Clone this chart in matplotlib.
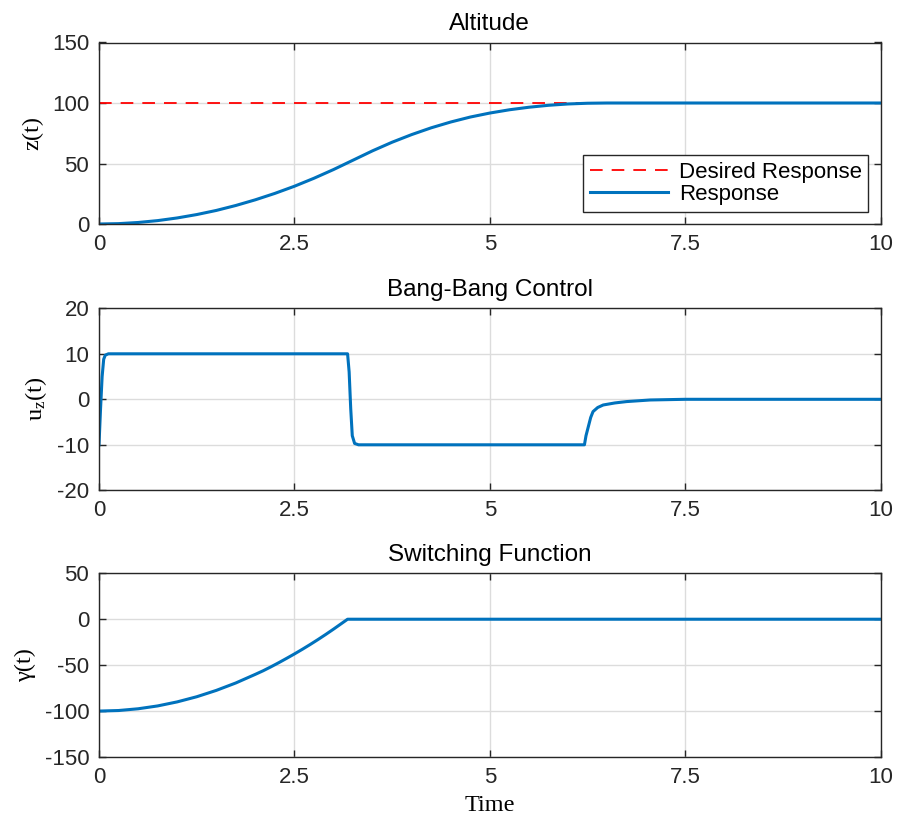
import matplotlib
matplotlib.use('Agg')
import matplotlib.pyplot as plt

plt.rcParams['font.family'] = ['Liberation Sans', 'DejaVu Sans']
plt.rcParams['mathtext.fontset'] = 'custom'
plt.rcParams['mathtext.rm'] = 'Liberation Serif'
plt.rcParams['mathtext.it'] = 'Liberation Serif:italic'
plt.rcParams['axes.unicode_minus'] = False

# altitude response
t_z = [0, 0.25, 0.5, 0.75, 1, 1.25, 1.5, 1.75, 2, 2.25, 2.5, 2.75, 3, 3.2,
       3.5, 3.75, 4, 4.25, 4.5, 4.75, 5, 5.25, 5.5, 5.75, 6, 6.25, 6.5, 10]
z = [0, 0.3, 1.25, 2.8, 5, 7.8, 11.2, 15.3, 20, 25.3, 31.2, 37.8, 45, 51.2,
     60.5, 67.6, 73.9, 79.5, 84.3, 88.4, 91.7, 94.4, 96.5, 98.1, 99.2, 99.8, 100, 100]
t_des = [0, 10]
z_des = [100, 100]

# bang-bang control
t_u = [0, 0.02, 0.04, 0.06, 0.08, 0.12, 3.18, 3.2, 3.22, 3.24, 3.27, 3.32,
       6.21, 6.23, 6.26, 6.29, 6.32, 6.38, 6.45, 6.6, 6.75, 7.05, 7.5, 10]
u = [-10, -2, 5, 8.8, 9.7, 10, 10, 6, -2, -8, -9.7, -10,
     -10, -8, -6, -4, -2.7, -1.8, -1.25, -0.8, -0.5, -0.15, 0, 0]

# switching function
t_g = [0, 0.25, 0.5, 0.75, 1, 1.25, 1.5, 1.75, 2, 2.1, 2.2, 2.3, 2.4, 2.5,
       2.6, 2.7, 2.8, 2.9, 3.0, 3.1, 3.18, 10]
gam = [-100, -99.4, -97.5, -94.4, -90, -84.4, -77.5, -69.4, -60, -56.1, -51.8,
       -47.3, -42.6, -37.8, -32.8, -27.6, -22.2, -16.6, -10.8, -4.8, 0, 0]

xticks = [0, 2.5, 5, 7.5, 10]
xlabels = ['0', '2.5', '5', '7.5', '10']

blue = '#0072BD'
W, H = 898, 827
fig = plt.figure(figsize=(W / 100, H / 100), dpi=100)

boxes = [(42.5, 224), (308.3, 490.3), (573.3, 757)]
axes = []
for top, bot in boxes:
    ax = fig.add_axes([99 / W, 1 - bot / H, (880.7 - 99) / W, (bot - top) / H])
    axes.append(ax)

def style(ax, yticks, ylabel, title):
    ax.set_xlim(0, 10)
    ax.set_ylim(yticks[0], yticks[-1])
    ax.set_xticks(xticks)
    ax.set_xticklabels(xlabels)
    ax.set_yticks(yticks)
    ax.tick_params(direction='in', top=True, right=True, labelsize=16,
                   length=5, width=1, color='#262626', pad=7, labelcolor='#262626')
    ax.grid(True, color='#dcdcdc', linewidth=1)
    ax.set_axisbelow(True)
    for s in ax.spines.values():
        s.set_color('#262626')
        s.set_linewidth(1)
    ax.set_ylabel(ylabel, family='Liberation Serif', fontsize=17.5, labelpad=6)
    ax.set_title(title, fontsize=17.5, pad=9)

ax1, ax2, ax3 = axes
ax1.plot(t_des, z_des, '--', color='#ff0000', lw=1.3, dashes=(7, 5), label='Desired Response')
ax1.plot(t_z, z, color=blue, lw=2.2, label='Response')
style(ax1, [0, 50, 100, 150], 'z(t)', 'Altitude')
leg = ax1.legend(loc='lower right', fontsize=16, fancybox=False, framealpha=1,
                 edgecolor='#262626', borderpad=0.3, handlelength=3.5,
                 labelspacing=0.05, borderaxespad=0.55, handletextpad=0.5)
leg.get_frame().set_linewidth(1)

ax2.plot(t_u, u, color=blue, lw=2.2)
style(ax2, [-20, -10, 0, 10, 20], r'u$_\mathrm{z}$(t)', 'Bang-Bang Control')

ax3.plot(t_g, gam, color=blue, lw=2.2)
style(ax3, [-150, -100, -50, 0, 50], 'γ(t)', 'Switching Function')
ax3.set_xlabel('Time', family='Liberation Serif', fontsize=17.5, labelpad=5)

fig.savefig('out.png', dpi=100)
